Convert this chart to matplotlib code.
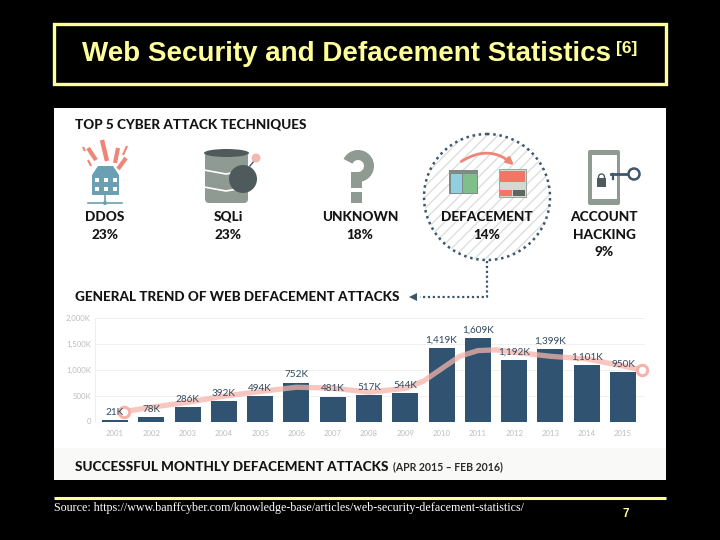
"""Web defacement statistics slide, redrawn with matplotlib."""

import matplotlib
matplotlib.use("Agg")
import matplotlib.pyplot as plt
from matplotlib.patches import Arc, Circle, Ellipse, FancyArrowPatch, FancyBboxPatch, Polygon, Rectangle

YEARS = ["2001", "2002", "2003", "2004", "2005", "2006", "2007", "2008",
         "2009", "2010", "2011", "2012", "2013", "2014", "2015"]
ATTACKS_K = [21, 78, 286, 392, 494, 752, 481, 517, 544, 1419, 1609, 1192, 1399, 1101, 950]
BAR_LABELS = ["21K", "78K", "286K", "392K", "494K", "752K", "481K", "517K", "544K",
              "1,419K", "1,609K", "1,192K", "1,399K", "1,101K", "950K"]
TREND_POS = [0.25, 1, 2, 3, 4, 5, 6, 7, 8, 8.5, 9, 9.5, 10, 10.5, 11, 12, 13, 14.52]
TREND_K = [190, 275, 372, 490, 580, 662, 645, 567, 640, 780, 1020, 1260, 1370, 1385, 1340, 1260, 1210, 1000]
Y_TICKS = [0, 500, 1000, 1500, 2000]
Y_TICK_LABELS = ["0", "500K", "1,000K", "1,500K", "2,000K"]

TECHNIQUES = [("DDOS\n23%", 105), ("SQLi\n23%", 228), ("UNKNOWN\n18%", 360),
              ("DEFACEMENT\n14%", 487), ("ACCOUNT\nHACKING\n9%", 604)]

YELLOW = "#ffff99"
NAVY = "#2f5370"
INK = "#141414"
SALMON = "#ee8577"
GREY = "#8f9a92"
DOTS = "#3e566b"
TREND = "#f3b3aa"

W, H = 720, 540
fig = plt.figure(figsize=(W / 100, H / 100), dpi=100, facecolor="black")

# overlay in pixel coordinates for the slide furniture and icons
bg = fig.add_axes([0, 0, 1, 1])
bg.set_xlim(0, W)
bg.set_ylim(H, 0)
bg.axis("off")

bg.add_patch(Rectangle((53.5, 24), 612, 60, fc="black", ec=YELLOW, lw=2.4))
bg.text(82, 54, "Web Security and Defacement Statistics", color=YELLOW, fontsize=20,
        fontweight="bold", family="Liberation Sans", va="center")
bg.text(627, 48, "[6]", color=YELLOW, fontsize=12.5, fontweight="bold",
        family="Liberation Sans", ha="center", va="center")

bg.add_patch(Rectangle((54, 108), 612, 372, fc="white", ec="none"))
bg.add_patch(Rectangle((54, 448), 612, 32, fc="#f9f9f7", ec="none"))

bg.plot([54, 666], [498, 498], color=YELLOW, lw=2.2, solid_capstyle="butt")
bg.text(54, 508.5, "Source: https://www.banffcyber.com/knowledge-base/articles/web-security-defacement-statistics/",
        color="white", fontsize=8.65, family="Liberation Serif", va="center")
bg.text(626, 514, "7", color=YELLOW, fontsize=8.5, fontweight="bold",
        family="Liberation Sans", ha="center", va="center")


def heading(x, y, text, size=9.7, weight="black", color=INK):
    bg.text(x, y, text, fontsize=size, fontweight=weight, color=color,
            family="Lato", va="center", zorder=6)


heading(75, 125, "TOP 5 CYBER ATTACK TECHNIQUES")
heading(75, 297, "GENERAL TREND OF WEB DEFACEMENT ATTACKS")
heading(75, 467, "SUCCESSFUL MONTHLY DEFACEMENT ATTACKS")
heading(393, 467, "(APR 2015 – FEB 2016)", size=7.6, weight="bold", color="#2a2a2a")

# defacement circle sits behind its label
bg.add_patch(Circle((487, 197), 63, fc="white", ec="#dcdfdc", hatch="///", lw=0, zorder=2))
bg.add_patch(Circle((487, 197), 63, fc="none", ec=DOTS, lw=1.8, ls=(0, (1, 1.5)), zorder=3))
bg.plot([487, 487, 420], [261, 297, 297], color=DOTS, lw=1.6, ls=(0, (1, 1.2)), zorder=3)
bg.add_patch(Polygon([[409, 297], [417, 293], [417, 301]], fc=DOTS, ec="none", zorder=3))

for label, x in TECHNIQUES:
    for i, line in enumerate(label.split("\n")):
        bg.text(x, 217 + i * 17.7, line, fontsize=9.8, fontweight="black", color=INK,
                family="Lato", ha="center", va="center", zorder=6)

# DDOS icon
for x0, y0, x1, y1, lw in [(102, 140, 107, 161, 3.2), (88, 148, 96, 160, 3), (118, 148, 115, 163, 3),
                           (126, 158, 118, 169, 3), (83, 147, 85, 151, 1.5), (127, 146, 123, 155, 1.5),
                           (88, 160, 91, 166, 1.5)]:
    bg.plot([x0, x1], [y0, y1], color=SALMON, lw=lw, solid_capstyle="butt", zorder=4)
bg.add_patch(Polygon([[92, 175], [98, 166], [113, 166], [119, 175]], fc="#6b9fb3", ec="none", zorder=4))
bg.add_patch(Rectangle((92, 175), 27, 20, fc="#6b9fb3", ec="none", zorder=4))
for yy in (178, 187):
    for xx in (95, 104, 113):
        bg.add_patch(Rectangle((xx, yy), 4, 4, fc="white", ec="none", zorder=5))
bg.plot([105, 105], [195, 203], color="#6b9fb3", lw=1.2, zorder=4)
bg.plot([88, 122], [203, 203], color="#6b9fb3", lw=1.2, zorder=4)
bg.add_patch(Circle((105, 203), 2, fc="#6b9fb3", ec="none", zorder=4))

# SQLi icon
bg.add_patch(FancyBboxPatch((205, 152), 43, 51, boxstyle="round,pad=0,rounding_size=4",
                            fc=GREY, ec="none", zorder=4))
bg.add_patch(Ellipse((226.5, 153), 45, 8, fc="#4f5a5c", ec="none", zorder=5))
bg.plot([204, 226, 249], [170, 174, 170], color="white", lw=1.2, zorder=5)
bg.plot([204, 226, 249], [187, 191, 187], color="white", lw=1.2, zorder=5)
bg.add_patch(Circle((243, 179), 14, fc="#4f5a5c", ec="none", zorder=6))
bg.plot([250, 254], [166, 161], color="#4f5a5c", lw=1, zorder=6)
bg.add_patch(Circle((256, 158), 4.5, fc="#f1b9b2", ec="none", zorder=6))

# unknown icon, built from shapes since it is a pictogram
bg.add_patch(Arc((358, 166), 22, 22, theta1=205, theta2=450, color=GREY, lw=7.2, zorder=4))
bg.add_patch(Rectangle((351, 172), 11, 16, fc=GREY, ec="none", zorder=4))
bg.add_patch(Rectangle((351, 192), 11, 11, fc=GREY, ec="none", zorder=4))

# defacement icon
bg.add_patch(Rectangle((449, 170), 29, 24, fc="#7d8a85", ec="none", zorder=4))
bg.add_patch(Rectangle((451, 174), 11, 19, fc="#8fcfe0", ec="none", zorder=5))
bg.add_patch(Rectangle((463, 174), 14, 19, fc="#7fc08a", ec="none", zorder=5))
bg.add_patch(Rectangle((499, 169), 27, 28, fc="#d5d7d3", ec="#8f9a92", lw=0.6, zorder=4))
bg.add_patch(Rectangle((500, 171), 25, 11, fc="#f47466", ec="none", zorder=5))
bg.add_patch(Rectangle((500, 190), 12, 6, fc="#f47466", ec="none", zorder=5))
bg.add_patch(Rectangle((513, 190), 12, 6, fc="#5c6663", ec="none", zorder=5))
bg.add_patch(FancyArrowPatch((459, 163), (516, 167), connectionstyle="arc3,rad=-0.4", arrowstyle="-|>",
                             mutation_scale=10, color=SALMON, lw=2, zorder=5))

# account hacking icon
bg.add_patch(FancyBboxPatch((588, 150), 32, 55, boxstyle="round,pad=0,rounding_size=2",
                            fc=GREY, ec="none", zorder=4))
bg.add_patch(Rectangle((592, 155), 25, 44, fc="white", ec="none", zorder=5))
bg.add_patch(Rectangle((597, 178), 9, 9, fc="#4f5a5c", ec="none", zorder=6))
bg.add_patch(Circle((601.5, 177), 3, fc="none", ec="#4f5a5c", lw=1, zorder=6))
bg.plot([611, 628], [174, 174], color=DOTS, lw=2, zorder=6)
bg.plot([613, 613], [174, 179], color=DOTS, lw=1.6, zorder=6)
bg.add_patch(Circle((634, 174), 5.5, fc="white", ec=DOTS, lw=1.8, zorder=6))

# bar and line chart: 0 sits at y=421.5 px and 2,000K at y=318 px
left, right, top, bottom = 95, 645, 318, 421.5
ax = fig.add_axes([left / W, 1 - bottom / H, (right - left) / W, (bottom - top) / H], facecolor="none")
positions = list(range(len(YEARS)))
ax.set_xlim(-20 / 36.29, 14 + 22 / 36.29)
ax.set_ylim(0, 2000)
ax.bar(positions, ATTACKS_K, width=0.72, color=NAVY, zorder=2)
ax.plot(TREND_POS, TREND_K, color=TREND, lw=3.8, alpha=0.75, zorder=3,
        solid_capstyle="round", solid_joinstyle="round", clip_on=False)
for i in (0, -1):
    ax.plot(TREND_POS[i], TREND_K[i], "o", ms=7.5, mfc="white", mec=TREND, mew=2.2,
            zorder=4, clip_on=False)
for x, value, text in zip(positions, ATTACKS_K, BAR_LABELS):
    ax.annotate(text, (x, value), xytext=(0, 5.5), textcoords="offset points", ha="center",
                va="center", fontsize=7.2, color="#33495f", family="Lato", zorder=5)

ax.set_xticks(positions, labels=YEARS)
ax.set_yticks(Y_TICKS, labels=Y_TICK_LABELS)
ax.tick_params(length=0, labelsize=5.6, labelcolor="#bdbdbd", pad=3)
ax.tick_params(axis="x", pad=6)
for tick in ax.get_xticklabels() + ax.get_yticklabels():
    tick.set_family("Lato")
ax.grid(axis="y", color="#f0f0f0", lw=0.7, zorder=0)
for spine in ax.spines.values():
    spine.set_visible(False)
ax.spines["left"].set_visible(True)
ax.spines["left"].set_color("#eeeeee")
ax.spines["left"].set_linewidth(0.7)

fig.savefig("out.png", dpi=100, facecolor="black")
